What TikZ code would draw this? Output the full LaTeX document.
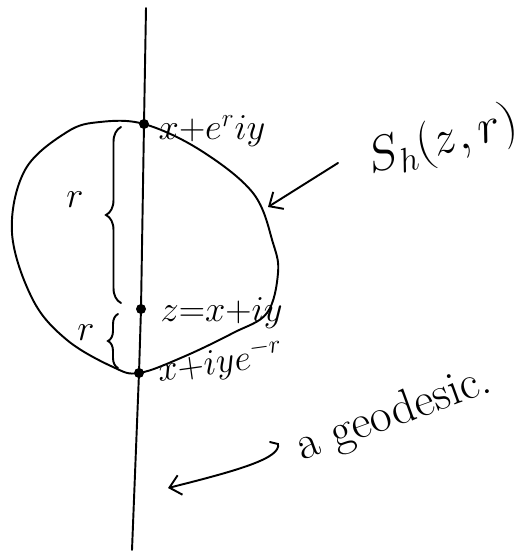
\documentclass[tikz,border=0pt]{standalone}
\usepackage{amsmath}
\usetikzlibrary{calc, arrows.meta, decorations.pathreplacing}

\begin{document}
\begin{tikzpicture}[x=0.2mm, y=-0.2mm, line width=1.1pt, line cap=round,
    dot/.style={circle, fill, inner sep=0pt, minimum size=2mm},
    lbl/.style={font=\huge, inner sep=1pt},
    arr/.style={-{Straight Barb[length=2.2mm, width=4mm]}}]
  \useasboundingbox (0,0) rectangle (521,558);
  \coordinate (gtop) at (146,8);
  \coordinate (gbot) at (132,550);
  \node[dot] (ptop) at (144,124) {};
  \node[dot] (pz) at (141,309) {};
  \node[dot] (pbot) at (139,373) {};
  \draw (gtop) -- (ptop.center) -- (pz.center) -- (pbot.center) -- (gbot);
  \draw plot[smooth cycle, tension=0.6] coordinates {(144,124) (200,150) (253,193) (273,243)
    (278,273) (267,313) (233,333) (183,357) (139,373) (113,367) (67,340) (33,300)
    (12,233) (25,170) (67,132) (100,122)};
        \draw[decorate, decoration={brace, amplitude=3mm}] (121,303) -- (121,127);
        \draw[decorate, decoration={brace, amplitude=2mm}] (118,368) -- (118,314);
  \node[lbl] (r1) at (75,200) {$r$};
  \node[lbl] (r2) at (86,333) {$r$};
  \node[lbl, anchor=west] (ltop) at (156,131) {$x{+}e^{r}iy$};
  \node[lbl, anchor=west] (lz) at (158,313) {$z{=}x{+}iy$};
  \node[lbl, anchor=west, rotate=8] (lbot) at (155,372) {$x{+}iye^{-r}$};
  \node[lbl, scale=1.35, rotate=15] (sh) at (443,142) {$S_h(z,r)$};
  \node[lbl, scale=1.3, rotate=20] (geo) at (394,415) {a geodesic.};
  \coordinate (shtail) at (338,163);
  \coordinate (shtip) at (268,207);
  \draw[arr] (shtail) -- (shtip);
  \coordinate (gtail) at (270,442);
  \coordinate (gtip) at (168,488);
  \draw[arr] (gtail) -- (278,444) .. controls (281,458) and (240,470) .. (gtip);
\end{tikzpicture}
\end{document}
